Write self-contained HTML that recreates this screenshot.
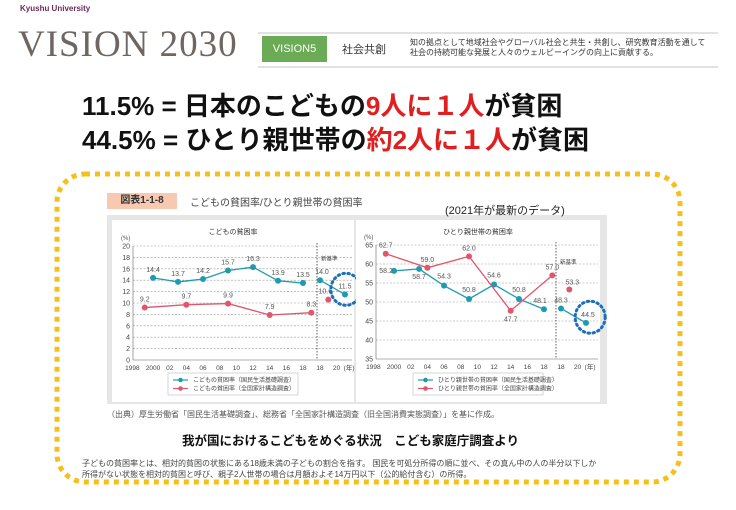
<!DOCTYPE html>
<html><head><meta charset="utf-8">
<style>
body{margin:0;width:736px;height:510px;background:#fff;position:relative;overflow:hidden;font-family:"Liberation Sans","Noto Sans CJK JP",sans-serif}
.a{position:absolute;white-space:nowrap}
</style></head><body>
<div class="a" style="left:20px;top:4px;font-size:8px;color:#6a2a5a;font-weight:bold">Kyushu University</div>
<div class="a" style="left:18px;top:23px;font-family:'Liberation Serif',serif;font-size:37px;color:#6e6660;letter-spacing:1px">VISION 2030</div>
<div class="a" style="left:258px;top:32px;width:460px;height:2px;background:#e2e2e2"></div>
<div class="a" style="left:258px;top:66px;width:460px;height:2px;background:#e2e2e2"></div>
<div class="a" style="left:262px;top:36px;width:65px;height:26px;background:#6cab55;color:#fff;font-size:11px;line-height:26px;text-align:center">VISION5</div>
<div class="a" style="left:342px;top:41px;font-size:11px;color:#333">社会共創</div>
<div class="a" style="left:410px;top:38px;font-size:8px;line-height:10px;color:#333">知の拠点として地域社会やグローバル社会と共生・共創し、研究教育活動を通して<br>社会の持続可能な発展と人々のウェルビーイングの向上に貢献する。</div>
<div class="a" style="left:82px;top:86px;font-size:26px;font-weight:bold;color:#111">11.5% = 日本のこどもの<span style="color:#e02020">9人に１人</span>が貧困</div>
<div class="a" style="left:82px;top:120px;font-size:26px;font-weight:bold;color:#111">44.5% = ひとり親世帯の<span style="color:#e02020">約2人に１人</span>が貧困</div>

<svg class="a" style="left:0;top:0" width="736" height="510">
<rect x="57" y="174" width="623" height="308" rx="28" fill="none" stroke="#f5c01a" stroke-width="5" stroke-dasharray="5 5"/>
</svg>

<div class="a" style="left:107px;top:193px;width:70px;height:16px;background:#f6c9b0;font-size:10px;font-weight:bold;line-height:16px;text-align:center;color:#333">図表1-1-8</div>
<div class="a" style="left:190px;top:194px;font-size:10px;color:#444">こどもの貧困率/ひとり親世帯の貧困率</div>
<div class="a" style="left:107px;top:215px;width:500px;height:189px;background:#e6e6e6"></div>
<div class="a" style="left:445px;top:202px;font-size:11px;color:#222">(2021年が最新のデータ)</div>

<svg id="ch" class="a" style="left:0;top:0" width="736" height="510"></svg>

<div class="a" style="left:107px;top:409px;font-size:8px;color:#555">（出典）厚生労働省「国民生活基礎調査」、総務省「全国家計構造調査（旧全国消費実態調査）」を基に作成。</div>
<div class="a" style="left:182px;top:430px;font-size:12.5px;font-weight:bold;color:#111">我が国におけるこどもをめぐる状況　こども家庭庁調査より</div>
<div class="a" style="left:82px;top:458px;font-size:8px;line-height:11px;color:#444">子どもの貧困率とは、相対的貧困の状態にある18歳未満の子どもの割合を指す。 国民を可処分所得の順に並べ、その真ん中の人の半分以下しか<br>所得がない状態を相対的貧困と呼び、親子2人世帯の場合は月額およそ14万円以下（公的給付含む）の所得。</div>

<script>
// Left chart: child poverty rate
const childYearsA=[2000,2003,2006,2009,2012,2015,2018];
const childValsA=[14.4,13.7,14.2,15.7,16.3,13.9,13.5];
const childYearsB=[1999,2004,2009,2014,2019];
const childValsB=[9.2,9.7,9.9,7.9,8.3];
const childNewYearsA=[2018,2021];
const childNewValsA=[14.0,11.5];
const childNewYearsB=[2019];
const childNewValsB=[10.6];
const childTicks=[0,2,4,6,8,10,12,14,16,18,20];
// Right chart: single-parent household poverty rate
const singleYearsA=[2000,2003,2006,2009,2012,2015,2018];
const singleValsA=[58.2,58.7,54.3,50.8,54.6,50.8,48.1];
const singleYearsB=[1999,2004,2009,2014,2019];
const singleValsB=[62.7,59.0,62.0,47.7,57.0];
const singleNewYearsA=[2018,2021];
const singleNewValsA=[48.3,44.5];
const singleNewYearsB=[2019];
const singleNewValsB=[53.3];
const singleTicks=[35,40,45,50,55,60,65];
const xLabelsOld=["1998","2000","02","04","06","08","10","12","14","16","18"];
const xLabelYearsOld=[1998,2000,2002,2004,2006,2008,2010,2012,2014,2016,2018];
const xLabelsNew=["18","20"];
const xLabelYearsNew=[2018,2020];

const NS="http://www.w3.org/2000/svg";
const svg=document.getElementById('ch');
function mk(t,a,p){const e=document.createElementNS(NS,t);for(const k in a)e.setAttribute(k,a[k]);(p||svg).appendChild(e);return e;}
const TEAL="#1f9bb0",RED="#e0566a";

function chart(cfg){
  const g=mk('g',{});
  
  
  mk('rect',{x:cfg.bx,y:220,width:cfg.bw,height:182,fill:'#fff'},g);
  const t=mk('text',{x:cfg.bx+cfg.bw/2,y:234,'font-size':7,'text-anchor':'middle',fill:'#333'},g);t.textContent=cfg.title;
  
  const y=v=>cfg.y0+(v-cfg.vmin)*(cfg.y1-cfg.y0)/(cfg.vmax-cfg.vmin);
  const xo=yr=>cfg.x2018+(yr-2018)*8.33;
  const xn=yr=>cfg.xn2018+(yr-2018)*8.33;
  const u=mk('text',{x:cfg.px-12,y:cfg.y1-6,'font-size':6,fill:'#555'},g);u.textContent='(%)';
  cfg.ticks.forEach((v,i)=>{
    mk('line',{x1:cfg.px,x2:cfg.pr,y1:y(v),y2:y(v),stroke:i==0?'#666':'#999','stroke-width':0.6,'stroke-dasharray':i==0?'':'2 1.5'},g);
    const tt=mk('text',{x:cfg.px-3,y:y(v)+2.5,'font-size':7,'text-anchor':'end',fill:'#444'},g);tt.textContent=v;
    
  });
  mk('line',{x1:cfg.px,x2:cfg.px,y1:cfg.y1,y2:cfg.y0,stroke:'#666','stroke-width':0.6},g);
  const dx=cfg.divx;
  mk('line',{x1:dx,x2:dx,y1:cfg.y1-3,y2:cfg.y0,stroke:'#333','stroke-width':0.8,'stroke-dasharray':'1.5 1.5'},g);
  const nb=mk('text',{x:dx+4,y:y(cfg.nbv),'font-size':5.5,fill:'#444'},g);nb.textContent='新基準';
  xLabelsOld.forEach((l,i)=>{const tt=mk('text',{x:xo(xLabelYearsOld[i])-(i==0?4:0),y:cfg.y0+10,'font-size':6.5,'text-anchor':'middle',fill:'#444'},g);tt.textContent=l;
    });
  xLabelsNew.forEach((l,i)=>{const tt=mk('text',{x:xn(xLabelYearsNew[i]),y:cfg.y0+10,'font-size':6.5,'text-anchor':'middle',fill:'#444'},g);tt.textContent=l;});
  const yr=mk('text',{x:xn(2020)+7,y:cfg.y0+10,'font-size':6.5,fill:'#444'},g);yr.textContent='(年)';
  function series(ys,vs,xf,col,name,off){
    if(ys.length>1)mk('polyline',{points:ys.map((a,i)=>xf(a)+','+y(vs[i])).join(' '),fill:'none',stroke:col,'stroke-width':1.3},g);
    ys.forEach((a,i)=>{const c=mk('circle',{cx:xf(a),cy:y(vs[i]),r:3,fill:col},g);
      
      const o=off[i]||[0,-6];
      const l=mk('text',{x:xf(a)+o[0],y:y(vs[i])+o[1],'font-size':7,'text-anchor':'middle',fill:'#555'},g);l.textContent=vs[i].toFixed(1);});
  }
  series(cfg.ya,cfg.va,xo,TEAL,'teal',cfg.offA);
  series(cfg.yb,cfg.vb,xo,RED,'red',cfg.offB);
  series(cfg.nya,cfg.nva,xn,TEAL,'teal-new',cfg.offNA);
  series(cfg.nyb,cfg.nvb,xn,RED,'red-new',cfg.offNB);
  const c=cfg.circ;
  const ci=mk('ellipse',{cx:xn(c[0]),cy:y(c[1]),rx:15,ry:16,fill:'none',stroke:'#1c6fb8','stroke-width':3,'stroke-dasharray':'1.5 3.5','stroke-linecap':'round'},g);
  
  const lx=cfg.bx+cfg.bw/2-65;
  mk('rect',{x:lx,y:373,width:130,height:22,fill:'#fff',stroke:'#bbb','stroke-width':0.6},g);
  [[TEAL,cfg.la],[RED,cfg.lb]].forEach((e,i)=>{
    const yy=380+i*8.5;
    mk('line',{x1:lx+5,x2:lx+20,y1:yy,y2:yy,stroke:e[0],'stroke-width':1.2},g);
    mk('circle',{cx:lx+12.5,cy:yy,r:2.3,fill:e[0]},g);
    const tt=mk('text',{x:lx+25,y:yy+2.2,'font-size':6,fill:'#444'},g);tt.textContent=e[1];
    
  });
}
chart({name:'child-poverty-chart',bx:112,bw:242,title:'こどもの貧困率',px:133,pr:352,y0:360,y1:246,vmin:0,vmax:20,ticks:childTicks,
  x2018:303,xn2018:320,divx:317,nbv:17.5,
  ya:childYearsA,va:childValsA,yb:childYearsB,vb:childValsB,nya:childNewYearsA,nva:childNewValsA,nyb:childNewYearsB,nvb:childNewValsB,
  offA:[],offB:[],offNA:[[2,-6],[0,-6]],offNB:[[-3,-6]],circ:[2021.1,12.4],
  la:'こどもの貧困率（国民生活基礎調査）',lb:'こどもの貧困率（全国家計構造調査）'});
chart({name:'single-parent-poverty-chart',bx:356,bw:244,title:'ひとり親世帯の貧困率',px:376,pr:598,y0:359,y1:245,vmin:35,vmax:65,ticks:singleTicks,
  x2018:544,xn2018:561,divx:556,nbv:60,
  ya:singleYearsA,va:singleValsA,yb:singleYearsB,vb:singleValsB,nya:singleNewYearsA,nva:singleNewValsA,nyb:singleNewYearsB,nvb:singleNewValsB,
  offA:[[-8,2],[0,10],[0,-7],[0,-7],[0,-7],[0,-7],[-4,-6]],offB:[[0,-6],[0,-6],[0,-6],[0,11],[0,-6]],offNA:[[0,-6],[2,-6]],offNB:[[3,-5]],circ:[2021.5,46],
  la:'ひとり親世帯の貧困率（国民生活基礎調査）',lb:'ひとり親世帯の貧困率（全国家計構造調査）'});
</script>
</body></html>
